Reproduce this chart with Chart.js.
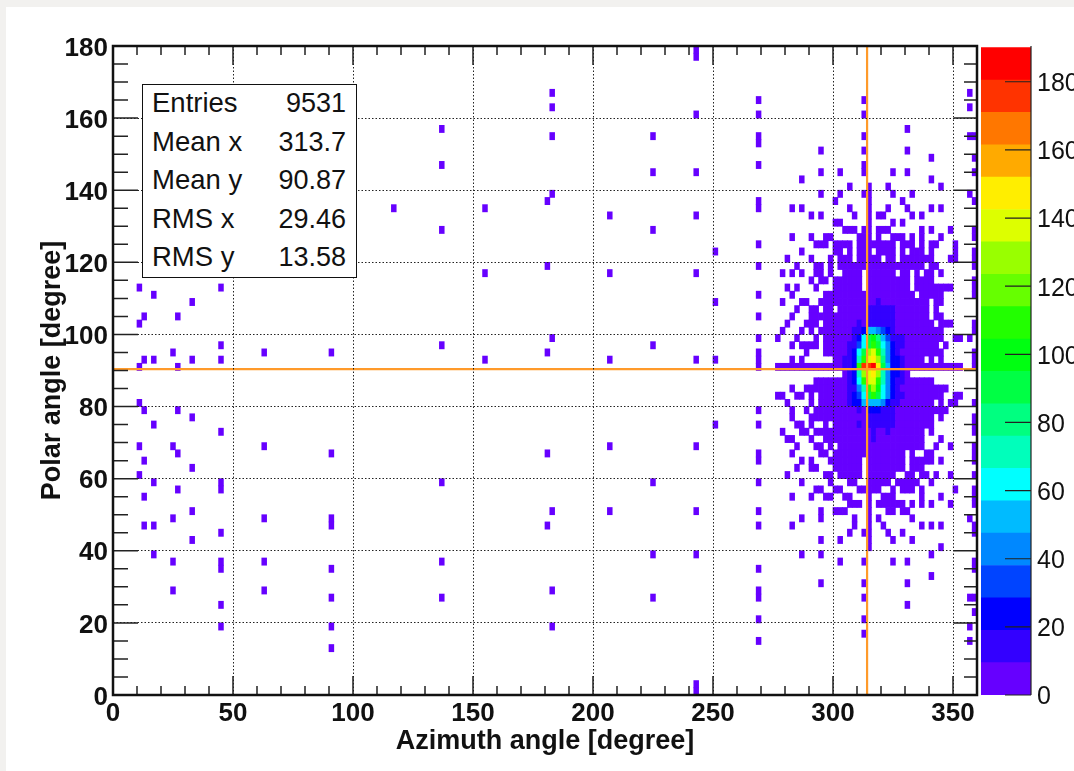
<!DOCTYPE html>
<html>
<head>
<meta charset="utf-8">
<title>Azimuth vs polar angle</title>
<script src="https://cdn.jsdelivr.net/npm/chart.js@4/dist/chart.umd.min.js"></script>
<style>
  html, body { margin: 0; height: 100%; background: #f2f1ef; overflow: hidden; }
  #panel { position: absolute; left: 6px; top: 7px; right: 0; bottom: 0; background: #fff; }
  #map { position: absolute; left: 0; top: 0; }
  #bar { position: absolute; left: 975px; top: 0; }
  #stats {
    position: absolute; left: 142px; top: 84px; width: 213px; height: 192px;
    border: 1.5px solid #111; background: #fff; color: #111;
    font: 27.5px "Liberation Sans", sans-serif;
  }
  #stats div { position: absolute; left: 9px; right: 10px; height: 30px; line-height: 30px; }
  #stats span { float: right; font-size: 27px; }
</style>
</head>
<body>
<div id="panel"></div>
<canvas id="map" width="1074" height="771"></canvas>
<canvas id="bar" width="99" height="771"></canvas>
<div id="stats"></div>

<script>
// histogram has 2 degree bins on both axes
const binDeg = 2;

const xTickLabels = [0, 50, 100, 150, 200, 250, 300, 350];
const yTickLabels = [0, 20, 40, 60, 80, 100, 120, 140, 160, 180];
const barTickLabels = [0, 20, 40, 60, 80, 100, 120, 140, 160, 180];

const statNames = ["Entries", "Mean x", "Mean y", "RMS x", "RMS y"];
const statValues = ["9531", "313.7", "90.87", "29.46", "13.58"];

// position of the orange cross
const crossAz = 314.2;
const crossPolar = 90.4;

// palette, one colour per band, low to high
const bandColors = ["#6600ff", "#3300ff", "#0000ff", "#0044ff", "#0088ff", "#00bbff", "#00ffff", "#00ffbb", "#00ff80", "#00ff44",
  "#00ff11", "#22ff00", "#66ff00", "#99ff00", "#ddff00", "#ffee00", "#ffaa00", "#ff7700", "#ff3300", "#ff0000"];
const bandEdges = [0, 9.5, 19, 28.5, 38, 47.5, 57, 66.5, 76, 85.5, 95, 104.5, 114, 123.5, 133, 142.5, 152, 161.5, 171, 180.5, 190];

// filled cells with a low count: polar bin, then azimuth bins (a-b is a run)
const lowCount = 4;
const lowRowBins = [89, 88, 83, 82, 81, 80, 78, 77, 76, 75, 74, 73, 72, 71, 70, 69, 68, 67, 66, 65, 64, 63, 62, 61, 60,
  59, 58, 57, 56, 55, 54, 53, 52, 51, 50, 49, 48, 47, 46, 45, 44, 43, 42, 41, 40, 39, 38, 37, 36, 35, 34, 33, 32, 31, 30,
  29, 28, 27, 26, 25, 24, 23, 22, 21, 20, 19, 18, 17, 16, 15, 14, 13, 12, 11, 10, 9, 8, 7, 6, 1, 0];
const lowRowCells = [
  "121", "121", "91 178", "134 156", "91 178", "121 134 156", "68 165", "91 112 134 156 178-179", "134", "147 156 165",
  "170 179", "68 134 156", "112 121 147 151 156 162 165 179", "143 170", "153 157 161 172",
  "91 147 151 156 157 162 166 178", "90 134 150 157 164 179", "58 77 134 141 143 153 157 161 165 170 172",
  "103 121 145 147 154 157 159-160 166 168", "150-151 157 162 164",
  "68 112 152-154 156-157 159-161 168 170 174 179",
  "141 145 148-149 155-157 159 162-164 166 168 172 179",
  "134 146-148 150-153 155-162 164-166 168 170-171 175",
  "125 143 150-151 153 155-157 159-162 164 166-168 170 175 179",
  "140 145 149 151-153 155-159 161-162 164-170 174-175 179",
  "90 134 142 146-147 149 151-168 170-171 179",
  "77 103 121 139 141 143 146-147 149 152-155 157-162 164-165 167 169-170 172",
  "145 147-148 150-155 157-165 167-170 179",
  "5 22 140 142 146 150-155 157-165 167-174 179",
  "8 134 141 148-166 168-172 179",
  "16 125 139 143-144 147-169 171-172",
  "142 145-146 148-149 151-169 171",
  "6 13 134 141 145-169 171-172",
  "5 140 144-146 148-170 172-174 179",
  "139 143 145 147-172 179",
  "91 134 138 142 146 148-172 175-176 178",
  "22 68 112 141 143-146 148-171 173",
  "12 31 45 90 134 144 148-172 179",
  "6 8 16 22 77 103 121 125 134 141 143 150-168 170 172 179",
  "5 13 134 138-176 179",
  "152-165",
  "146-170",
  "141 144-173",
  "138-139 142-143 145 147-172 175-176",
  "5 140 145 147-170 172 174-175 179",
  "6 13 134 141 144 146-173",
  "16 141 145-170 172 179",
  "8 125 134 142-143 145 148 150-170 179",
  "22 139 143-144 146-168 170 179",
  "140-141 145 148-168 172",
  "5 12 31 103 121 142 146-147 149 151-168 171 174 179",
  "13 45 90 134 141 147-148 150-164 166 169-170 179",
  "6 134 143 145 149-155 157-164 166-170 172 179",
  "16 142 145-146 150-155 157-164 166-168",
  "5 140 148-149 151-155 157-162 165-166 168-169 171 174 179",
  "8 22 68 112 134 143 149 153-154 157-161 163-167 170",
  "13 22 146-147 150-151 155-159 162 164-166 168 175 179",
  "6 141 145 148-149 152-153 157 160-162 168 172 179",
  "153-155 157 159-164 166 168 170 174 179",
  "16 91 103 121 134 147 150-152 157 161-162 164-165",
  "12 31 45 143 147 154 157 159 166 178",
  "6 8 45 90 134 141 154 157 160 168 170 172 179",
  "22 153 156-157 161 164 179",
  "16 147 151 157 162 166",
  "157 172",
  "8 112 121 143 147 170",
  "12 22 31 68 151 156 162 165 179",
  "22 45 134 179",
  "170",
  "147 156 165",
  "12 31 91 134",
  "45 68 112 134 156 178-179",
  "22 165",
  "179",
  "134 156",
  "22 45 91 178",
  "156",
  "134 178",
  "45",
  "121",
  "121"
];

// the peak: counts for azimuth bins 152 to 164
const coreFirstBin = 152;
const coreRowBins = [54, 53, 52, 51, 50, 49, 48, 47, 46, 45, 44, 43, 42, 41, 40, 39, 38, 37, 36, 35];
const coreCounts = [
  [4, 4, 4, 4, 4, 4, 4, 14, 4, 4, 4, 4, 4],
  [4, 4, 4, 4, 4, 14, 14, 14, 14, 14, 14, 4, 4],
  [4, 4, 4, 4, 4, 14, 14, 14, 14, 14, 14, 4, 4],
  [4, 4, 4, 14, 4, 14, 14, 14, 14, 14, 14, 4, 4],
  [4, 4, 14, 14, 24, 52, 52, 43, 33, 24, 14, 4, 4],
  [4, 4, 14, 24, 62, 90, 100, 81, 52, 33, 14, 14, 14],
  [4, 14, 14, 33, 62, 90, 109, 90, 62, 43, 24, 14, 14],
  [4, 14, 24, 62, 90, 128, 138, 109, 71, 43, 24, 14, 4],
  [14, 14, 24, 71, 109, 138, 147, 128, 81, 43, 24, 24, 14],
  [14, 14, 24, 109, 176, 176, 185, 147, 90, 52, 24, 24, 14],
  [4, 14, 24, 71, 128, 138, 147, 128, 71, 43, 24, 24, 14],
  [4, 14, 24, 62, 109, 138, 138, 109, 71, 43, 24, 14, 14],
  [4, 14, 14, 43, 71, 109, 128, 100, 62, 43, 24, 14, 4],
  [4, 14, 24, 33, 62, 90, 109, 90, 62, 43, 24, 14, 14],
  [4, 14, 24, 24, 52, 52, 52, 52, 43, 24, 14, 14, 4],
  [4, 4, 4, 14, 4, 24, 24, 24, 14, 14, 14, 4, 4],
  [4, 4, 4, 4, 4, 14, 14, 14, 14, 14, 14, 4, 4],
  [4, 4, 4, 14, 4, 14, 14, 14, 14, 14, 14, 4, 4],
  [4, 4, 4, 4, 4, 4, 14, 4, 4, 14, 4, 4, 4],
  [4, 4, 4, 4, 4, 4, 14, 4, 4, 4, 4, 4, 4]
];

function buildCells() {
  const cells = {};
  lowRowCells.forEach((txt, r) => {
    txt.split(" ").forEach(part => {
      const ends = part.split("-").map(Number);
      const last = ends.length > 1 ? ends[1] : ends[0];
      for (let i = ends[0]; i <= last; i++) {
        cells[i + "_" + lowRowBins[r]] = { az: i, polar: lowRowBins[r], count: lowCount };
      }
    });
  });
  coreCounts.forEach((row, r) => {
    row.forEach((count, c) => {
      const i = coreFirstBin + c;
      cells[i + "_" + coreRowBins[r]] = { az: i, polar: coreRowBins[r], count: count };
    });
  });
  return Object.values(cells);
}

function colorFor(count) {
  for (let b = 0; b < bandColors.length; b++) {
    if (count < bandEdges[b + 1]) return bandColors[b];
  }
  return bandColors[bandColors.length - 1];
}

const cells = buildCells();

// inward ticks and frame
const mapFrame = {
  id: "mapFrame",
  afterDraw(chart) {
    const { ctx, chartArea: a, scales } = chart;
    ctx.save();
    ctx.strokeStyle = "#222";
    ctx.lineWidth = 1.5;
    ctx.beginPath();
    for (let v = 0; v <= 360; v += 10) {
      const x = scales.x.getPixelForValue(v);
      const len = v % 50 === 0 ? 19 : 9;
      ctx.moveTo(x, a.bottom); ctx.lineTo(x, a.bottom - len);
      ctx.moveTo(x, a.top); ctx.lineTo(x, a.top + len);
    }
    for (let v = 0; v <= 180; v += 5) {
      const y = scales.y.getPixelForValue(v);
      const left = v % 20 === 0 ? 25 : 15;
      const right = v % 20 === 0 ? 23 : 13;
      ctx.moveTo(a.left, y); ctx.lineTo(a.left + left, y);
      ctx.moveTo(a.right, y); ctx.lineTo(a.right - right, y);
    }
    ctx.stroke();
    ctx.strokeStyle = "#111";
    ctx.lineWidth = 2.5;
    ctx.strokeRect(a.left, a.top, a.right - a.left, a.bottom - a.top);
    ctx.restore();
  }
};

const barFrame = {
  id: "barFrame",
  afterDraw(chart) {
    const { ctx, chartArea: a, scales } = chart;
    ctx.save();
    ctx.strokeStyle = "#222";
    ctx.lineWidth = 1.2;
    ctx.beginPath();
    ctx.moveTo(a.right, a.top); ctx.lineTo(a.right, a.bottom);
    barTickLabels.forEach(v => {
      const y = scales.y.getPixelForValue(v);
      ctx.moveTo(a.right, y); ctx.lineTo(a.right - 26, y);
    });
    ctx.stroke();
    ctx.restore();
  }
};

const boldTick = { family: "Liberation Sans", weight: "bold", size: 26 };
const boldTitle = { family: "Liberation Sans", weight: "bold", size: 27 };
const dotGrid = { z: 1, color: "#222", lineWidth: 1, drawTicks: false, tickLength: 0, offset: false };

new Chart(document.getElementById("map"), {
  type: "bar",
  plugins: [mapFrame],
  data: {
    datasets: [
      {
        type: "line", order: 0, data: [{ x: crossAz, y: 0 }, { x: crossAz, y: 180 }],
        borderColor: "#ff9a2a", borderWidth: 2.2, pointRadius: 0, clip: false
      },
      {
        type: "line", order: 0, data: [{ x: 0, y: crossPolar }, { x: 360, y: crossPolar }],
        borderColor: "#ff9a2a", borderWidth: 2.2, pointRadius: 0, clip: false
      },
      {
        order: 1,
        data: cells.map(c => ({ x: (c.az + 0.5) * binDeg, y: [c.polar * binDeg, (c.polar + 1) * binDeg] })),
        backgroundColor: cells.map(c => colorFor(c.count)),
        barThickness: 4.8,
        inflateAmount: 0.35,
        borderWidth: 0
      }
    ]
  },
  options: {
    responsive: false,
    animation: false,
    layout: { padding: { top: 46, right: 97, left: 0, bottom: 0 } },
    plugins: { legend: { display: false }, tooltip: { enabled: false } },
    scales: {
      x: {
        type: "linear", offset: false, min: 0, max: 360,
        afterBuildTicks: s => { s.ticks = xTickLabels.map(v => ({ value: v })); },
        afterFit: s => { s.height = 76; },
        grid: { ...dotGrid },
        border: { display: false, dash: [1.5, 2] },
        ticks: { color: "#111", font: boldTick, padding: 3, maxRotation: 0, autoSkip: false },
        title: { display: true, text: "Azimuth angle [degree]", color: "#111", font: boldTitle, padding: { top: 0, bottom: 13 } }
      },
      y: {
        type: "linear", min: 0, max: 180,
        afterBuildTicks: s => { s.ticks = yTickLabels.map(v => ({ value: v })); },
        afterFit: s => { s.width = 113; },
        grid: { ...dotGrid },
        border: { display: false, dash: [1.5, 2] },
        ticks: { color: "#111", font: boldTick, padding: 5, autoSkip: false, labelOffset: 2.5 },
        title: { display: true, text: "Polar angle [degree]", color: "#111", font: boldTitle, padding: { top: 36, bottom: 0 } }
      }
    }
  }
});

new Chart(document.getElementById("bar"), {
  type: "bar",
  plugins: [barFrame],
  data: {
    labels: ["z"],
    datasets: bandColors.map((color, b) => ({
      data: [[bandEdges[b], bandEdges[b + 1]]],
      backgroundColor: color,
      borderWidth: 0,
      grouped: false,
      barPercentage: 1,
      categoryPercentage: 1
    }))
  },
  options: {
    responsive: false,
    animation: false,
    layout: { padding: { top: 46, left: 6, right: 0, bottom: 76 } },
    plugins: { legend: { display: false }, tooltip: { enabled: false } },
    scales: {
      x: { display: false },
      y: {
        position: "right", min: 0, max: 190.5,
        afterBuildTicks: s => { s.ticks = barTickLabels.map(v => ({ value: v })); },
        afterFit: s => { s.width = 43; },
        grid: { display: false, drawTicks: false, tickLength: 0 },
        border: { display: false },
        ticks: { color: "#111", font: { family: "Liberation Sans", size: 25 }, padding: 6, autoSkip: false, labelOffset: 2.5 }
      }
    }
  }
});

// stats box
const stats = document.getElementById("stats");
const statTops = [3, 42, 80, 119, 157];
statNames.forEach((name, i) => {
  const row = document.createElement("div");
  row.style.top = statTops[i] + "px";
  row.innerHTML = name + "<span>" + statValues[i] + "</span>";
  stats.appendChild(row);
});
</script>
</body>
</html>
